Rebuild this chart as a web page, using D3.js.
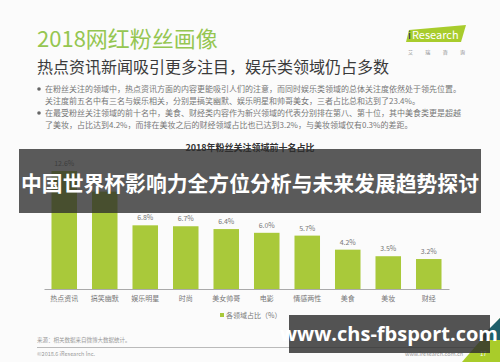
<!DOCTYPE html>
<html>
<head>
<meta charset="utf-8">
<script src="https://cdn.jsdelivr.net/npm/d3@7"></script>
<style>
  body { margin: 0; background: #fbfbfb; }
  svg { display: block; font-family: "Noto Sans CJK SC", "Noto Sans", sans-serif; }
</style>
</head>
<body>
<div id="chart"></div>
<script>
// data
var categories = ["热点资讯", "搞笑幽默", "娱乐明星", "时尚", "美女帅哥", "电影", "情感两性", "美食", "美妆", "财经"];
var shares = [12.6, 10.4, 6.8, 6.7, 6.4, 6.0, 5.7, 4.2, 3.5, 3.2];

var pageTitle = "2018网红粉丝画像";
var subTitle = "热点资讯新闻吸引更多注目，娱乐类领域仍占多数";
var bullets = [
    ["在粉丝关注的领域中，热点资讯方面的内容更能吸引人们的注意，而同时娱乐类领域的总体关注度依然处于领先位置。",
     "关注度前五名中有三名与娱乐相关，分别是搞笑幽默、娱乐明星和帅哥美女，三者占比总和达到了23.4%。"],
    ["在最受粉丝关注领域的前十名中，美食、财经类内容作为新兴领域的代表分别排在第八、第十位，其中美食类更是超越",
     "了美妆，占比达到4.2%，而排在美妆之后的财经领域占比也已达到3.2%，与美妆领域仅有0.3%的差距。"]
];
var chartTitle = "2018年粉丝关注领域前十名占比";
var legendLabel = "各领域占比（%）";
var bannerText = "中国世界杯影响力全方位分析与未来发展趋势探讨";
var watermark = "www.chs-fbsport.com";

var svgWidth = 500;
var svgHeight = 362;

var svg = d3.select("#chart")
    .append("svg")
    .attr("width", svgWidth)
    .attr("height", svgHeight);

svg.append("rect")
    .attr("width", svgWidth)
    .attr("height", svgHeight)
    .attr("fill", "#fbfbfb");

// header
svg.append("text")
    .attr("x", 37)
    .attr("y", 47)
    .attr("font-size", 22)
    .attr("fill", "#95c651")
    .text(pageTitle);

svg.append("text")
    .attr("x", 37)
    .attr("y", 73)
    .attr("font-size", 16)
    .attr("fill", "#3a3a3a")
    .text(subTitle);

// iResearch logo
svg.append("polygon")
    .attr("points", "409,30 466,25 461,42 406,42")
    .attr("fill", "#a8cc2c");
svg.append("text")
    .attr("x", 408)
    .attr("y", 39)
    .attr("font-size", 11)
    .attr("fill", "#1d2c5e")
    .text("i");
svg.append("text")
    .attr("x", 412)
    .attr("y", 39)
    .attr("font-size", 11)
    .attr("fill", "#ffffff")
    .text("Research");
svg.append("text")
    .attr("x", 408)
    .attr("y", 54)
    .attr("font-size", 5)
    .attr("fill", "#888")
    .attr("textLength", 57)
    .text("艾 瑞 咨 询");

// bullet paragraphs
var lineY = 92;
bullets.forEach(function (para) {
    svg.append("circle")
        .attr("cx", 39)
        .attr("cy", lineY - 3)
        .attr("r", 1.8)
        .attr("fill", "#666");
    para.forEach(function (line) {
        svg.append("text")
            .attr("x", 45)
            .attr("y", lineY)
            .attr("font-size", 8)
            .attr("fill", "#777")
            .text(line);
        lineY += 12;
    });
});

svg.append("text")
    .attr("x", 250)
    .attr("y", 151)
    .attr("text-anchor", "middle")
    .attr("font-size", 9)
    .attr("font-weight", "bold")
    .attr("fill", "#333")
    .text(chartTitle);

// bar chart
var baseY = 289;
var xScale = d3.scaleBand()
    .domain(categories)
    .range([44, 449])
    .paddingInner(0.37)
    .paddingOuter(0.185);

var yScale = d3.scaleLinear()
    .domain([0, 12.6])
    .range([baseY, 171]);

var bottomAxis = d3.axisBottom(xScale).tickSize(0).tickPadding(7);

var xAxis = svg.append("g")
    .attr("transform", `translate(0, ${baseY})`)
    .call(bottomAxis);
xAxis.select(".domain").attr("stroke", "#aaa");
xAxis.selectAll("text")
    .attr("font-size", 7)
    .attr("fill", "#777")
    .attr("font-family", "Noto Sans CJK SC");

svg.selectAll(".bar")
    .data(shares)
    .enter()
    .append("rect")
    .attr("class", "bar")
    .attr("x", (d, i) => xScale(categories[i]))
    .attr("y", d => yScale(d))
    .attr("width", xScale.bandwidth())
    .attr("height", d => baseY - yScale(d))
    .attr("fill", "#a9c93a");

svg.selectAll(".val")
    .data(shares)
    .enter()
    .append("text")
    .attr("class", "val")
    .attr("x", (d, i) => xScale(categories[i]) + xScale.bandwidth() / 2)
    .attr("y", d => yScale(d) - 5)
    .attr("text-anchor", "middle")
    .attr("font-size", 7)
    .attr("fill", "#777")
    .text(d => d.toFixed(1) + "%");

// legend
svg.append("rect")
    .attr("x", 220)
    .attr("y", 313)
    .attr("width", 4)
    .attr("height", 4)
    .attr("fill", "#a9c93a");
svg.append("text")
    .attr("x", 226)
    .attr("y", 318)
    .attr("font-size", 7)
    .attr("fill", "#777")
    .text(legendLabel);

// footer
svg.append("text")
    .attr("x", 37)
    .attr("y", 342)
    .attr("font-size", 5.5)
    .attr("fill", "#999")
    .text("来源：相关数据来自微博大数据统计。");
svg.append("line")
    .attr("x1", 37)
    .attr("x2", 490)
    .attr("y1", 347.5)
    .attr("y2", 347.5)
    .attr("stroke", "#aaa")
    .attr("stroke-width", 0.8);
svg.append("text")
    .attr("x", 37)
    .attr("y", 356)
    .attr("font-size", 5.5)
    .attr("fill", "#999")
    .text("©2018.6 iResearch Inc.");
svg.append("text")
    .attr("x", 405)
    .attr("y", 356)
    .attr("font-size", 5.5)
    .attr("fill", "#999")
    .text("www.iresearch.com.cn");

// corner decoration
svg.append("polygon")
    .attr("points", "500,318 500,362 462,362")
    .attr("fill", "#a9cc2a");
svg.append("polygon")
    .attr("points", "500,318 500,340 478,340")
    .attr("fill", "#1f5f6b");
svg.append("text")
    .attr("x", 480)
    .attr("y", 356)
    .attr("font-size", 6)
    .attr("fill", "#fff")
    .text("17");

// overlay banners
svg.append("rect")
    .attr("x", 19)
    .attr("y", 149)
    .attr("width", 462)
    .attr("height", 64)
    .attr("fill", "rgba(45,45,45,0.78)");
svg.append("text")
    .attr("x", 250)
    .attr("y", 191)
    .attr("text-anchor", "middle")
    .attr("font-size", 21)
    .attr("font-weight", "bold")
    .attr("fill", "#fff")
    .attr("textLength", 458)
    .attr("lengthAdjust", "spacingAndGlyphs")
    .text(bannerText);

svg.append("rect")
    .attr("x", 289)
    .attr("y", 315)
    .attr("width", 201)
    .attr("height", 38)
    .attr("fill", "rgba(45,45,45,0.82)");
svg.append("text")
    .attr("x", 389)
    .attr("y", 341)
    .attr("text-anchor", "middle")
    .attr("font-size", 20)
    .attr("font-weight", "bold")
    .attr("fill", "#fff")
    .attr("font-family", "Open Sans")
    .text(watermark);
</script>
</body>
</html>
